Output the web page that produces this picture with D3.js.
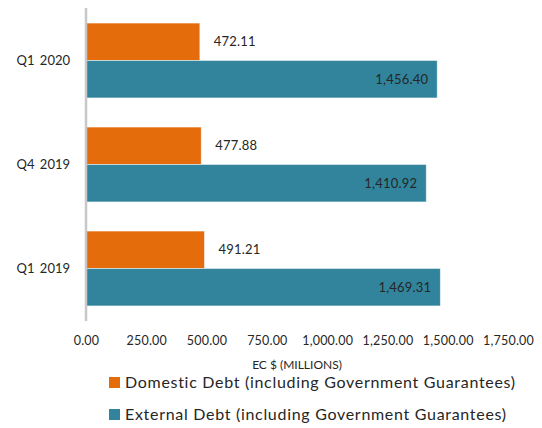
<!DOCTYPE html>
<html><head><meta charset="utf-8">
<script src="https://cdn.jsdelivr.net/npm/d3@7"></script>
<style>body{margin:0;background:#fff}svg{display:block}text{font-family:Lato,"Open Sans",sans-serif;fill:#262626}</style>
</head><body>
<script>
const categories = ["Q1 2020", "Q4 2019", "Q1 2019"];
const domestic = [472.11, 477.88, 491.21];
const external = [1456.40, 1410.92, 1469.31];
const seriesNames = ["Domestic Debt (including Government Guarantees)", "External Debt (including Government Guarantees)"];
const seriesColors = ["#E46C0A", "#31849B"];
const xTicks = [0, 250, 500, 750, 1000, 1250, 1500, 1750];
const xTitle = "EC $ (MILLIONS)";

const W = 542, H = 428;
const svg = d3.select("body").append("svg").attr("width", W).attr("height", H);

const x = d3.scaleLinear().domain([0, 1750]).range([86, 508]);
const y = d3.scaleBand().domain(categories).range([8.5, 320.5]).paddingInner(0.28).paddingOuter(0.14);
const sub = d3.scaleBand().domain([0, 1]).range([0, y.bandwidth()]);
const fmt = d3.format(",.2f");

// bars
const series = [domestic, external];
series.forEach((vals, si) => {
  svg.append("g").selectAll("rect").data(categories).join("rect")
    .attr("x", x(0))
    .attr("y", c => y(c) + sub(si))
    .attr("width", (c, i) => x(vals[i]) - x(0))
    .attr("height", sub.bandwidth())
    .attr("fill", seriesColors[si])
    .attr("stroke", "#ffffff").attr("stroke-opacity", 0.6).attr("stroke-width", 0.8);
});

// labels
svg.append("g").selectAll("text").data(categories).join("text")
  .attr("x", (c, i) => x(domestic[i]) + 14)
  .attr("y", c => y(c) + sub(0) + sub.bandwidth() / 2)
  .attr("dy", "0.35em").attr("font-size", 13).attr("letter-spacing", 0.2)
  .text((c, i) => fmt(domestic[i]));
svg.append("g").selectAll("text").data(categories).join("text")
  .attr("x", (c, i) => x(external[i]) - 9)
  .attr("y", c => y(c) + sub(1) + sub.bandwidth() / 2)
  .attr("dy", "0.35em").attr("font-size", 13).attr("letter-spacing", 0.2).attr("text-anchor", "end")
  .text((c, i) => fmt(external[i]));

// y axis
const yAxis = svg.append("g").attr("transform", `translate(${x(0)},0)`)
  .call(d3.axisLeft(y).tickSize(0).tickPadding(16));
yAxis.select(".domain").attr("stroke", "#C8C8C8").attr("stroke-width", 2.5).attr("d", "M0,8V321");
yAxis.selectAll("text").attr("font-size", 13).attr("font-family", "Lato, sans-serif").attr("fill", "#262626")
  .attr("word-spacing", 2);

// x axis (labels only)
const xAxis = svg.append("g").attr("transform", "translate(0,326)")
  .call(d3.axisBottom(x).tickValues(xTicks).tickFormat(fmt).tickSize(0).tickPadding(10));
xAxis.select(".domain").remove();
xAxis.selectAll("text").attr("font-size", 12.5).attr("font-family", "Lato, sans-serif").attr("fill", "#262626")
  .attr("letter-spacing", 0.2);

svg.append("text").attr("x", 297).attr("y", 369).attr("text-anchor", "middle")
  .attr("font-size", 12).text(xTitle);

// legend
const leg = svg.append("g").selectAll("g").data(seriesNames).join("g")
  .attr("transform", (d, i) => `translate(109,${377 + i * 32})`);
leg.append("rect").attr("width", 11).attr("height", 11).attr("fill", (d, i) => seriesColors[i]);
leg.append("text").attr("x", 16).attr("y", 11).attr("font-size", 16)
  .attr("letter-spacing", 0.7).text(d => d);
</script>
</body></html>
